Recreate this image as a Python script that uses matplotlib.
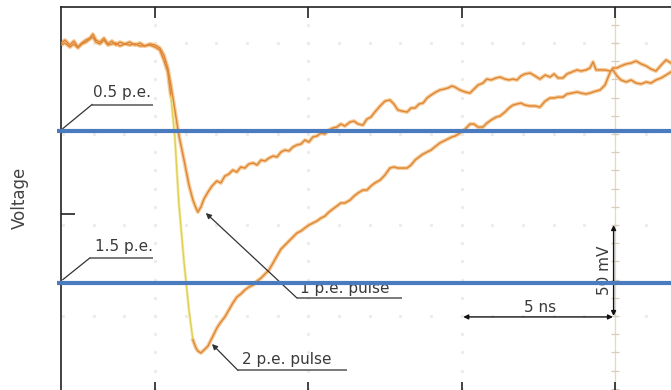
import numpy as np
import matplotlib
matplotlib.use("Agg")
import matplotlib.pyplot as plt

# ---- data (time in ns, voltage in mV relative to baseline) ----
t_ns = [-3.06, -2.93, -2.77, -2.64, -2.51, -2.38, -2.25, -2.12, -2.02, -1.92,
        -1.79, -1.66, -1.53, -1.40, -1.27, -1.14, -0.98, -0.82, -0.65, -0.49,
        -0.33, -0.16, 0.00, 0.16, 0.29, 0.42, 0.52, 0.65, 0.78, 0.95,
        1.11, 1.24, 1.34, 1.40, 1.50, 1.60, 1.73, 1.86, 2.02, 2.15,
        2.28, 2.41, 2.54, 2.67, 2.80, 2.93, 3.06, 3.20, 3.33, 3.46,
        3.59, 3.72, 3.85, 3.98, 4.11, 4.24, 4.37, 4.50, 4.63, 4.76,
        4.89, 5.02, 5.15, 5.28, 5.41, 5.54, 5.67, 5.80, 5.93, 6.06,
        6.19, 6.36, 6.49, 6.62, 6.78, 6.91, 7.04, 7.17, 7.34, 7.50,
        7.66, 7.79, 7.92, 8.05, 8.22, 8.35, 8.48, 8.61, 8.74, 8.87,
        9.00, 9.16, 9.29, 9.42, 9.55, 9.68, 9.78, 9.94, 10.11, 10.27,
        10.40, 10.53, 10.69, 10.82, 10.96, 11.12, 11.25, 11.41, 11.54, 11.67,
        11.80, 11.93, 12.06, 12.23, 12.39, 12.55, 12.72, 12.88, 13.01, 13.14,
        13.30, 13.43, 13.60, 13.76, 13.89, 14.05, 14.18, 14.28, 14.38, 14.51,
        14.67, 14.84, 14.93, 15.06, 15.19, 15.36, 15.52, 15.68, 15.85, 16.01,
        16.17, 16.33, 16.50, 16.66, 16.82]

v_1pe = [0.0, 1.6, -1.1, 1.1, -2.2, 0.0, 1.6, 2.7, 4.9, 1.6,
         0.5, 2.7, -0.5, 1.1, -1.1, 0.5, -0.5, 0.5, -1.1, 0.0,
         -1.6, -0.5, -1.1, -2.7, -6.6, -13.7, -23.1, -36.8, -50.5, -64.3,
         -78.0, -86.3, -90.7, -92.9, -90.1, -85.7, -81.9, -78.6, -75.8, -76.9,
         -73.1, -72.0, -69.8, -70.9, -68.1, -68.7, -66.5, -65.9, -67.0, -64.3,
         -64.8, -63.2, -62.1, -62.6, -59.9, -58.8, -59.3, -57.1, -56.0, -55.5,
         -53.3, -54.4, -51.6, -51.1, -49.5, -50.0, -47.8, -46.7, -46.2, -44.5,
         -45.6, -43.4, -42.9, -44.5, -45.1, -41.8, -40.7, -37.9, -34.6, -31.9,
         -31.3, -33.5, -36.8, -37.4, -37.9, -35.7, -35.7, -33.5, -33.0, -30.2,
         -28.6, -26.9, -25.8, -25.3, -24.7, -23.6, -24.2, -25.8, -26.9, -27.5,
         -25.3, -23.1, -22.0, -19.8, -20.3, -19.2, -18.7, -19.8, -20.3, -19.8,
         -20.3, -18.1, -17.0, -16.5, -18.1, -19.8, -17.6, -18.7, -17.0, -19.2,
         -19.2, -17.0, -15.9, -14.8, -15.4, -14.8, -13.7, -10.4, -14.8, -14.8,
         -14.8, -15.4, -14.8, -18.1, -20.3, -21.4, -20.3, -22.0, -22.5, -21.4,
         -22.0, -20.3, -19.2, -17.6, -15.9]

v_2pe = [-1.1, 0.0, -2.2, -0.5, -2.7, -0.5, 0.5, 2.2, 3.3, 0.5,
         -0.5, 1.6, -1.1, -0.5, 0.0, -1.6, -0.5, -1.1, -0.5, -1.6,
         -1.6, -1.1, -2.2, -3.8, -9.3, -15.9, -29.1, -51.6, -87.9, -120.3,
         -146.7, -163.2, -167.6, -169.2, -170.3, -168.7, -166.5, -162.1, -156.6, -153.3,
         -150.5, -146.7, -142.9, -139.6, -137.9, -135.7, -134.1, -133.0, -130.8, -129.1,
         -126.9, -124.7, -120.9, -117.0, -113.2, -111.0, -108.8, -106.6, -104.4, -103.3,
         -101.6, -100.0, -98.9, -97.8, -96.2, -95.1, -92.9, -91.2, -89.6, -87.9,
         -87.9, -86.3, -84.1, -82.4, -80.8, -80.8, -78.6, -76.9, -75.3, -72.5,
         -68.7, -68.1, -68.7, -68.7, -68.7, -67.0, -64.3, -62.6, -61.0, -59.9,
         -58.8, -56.6, -54.9, -53.8, -52.7, -51.6, -51.1, -49.5, -47.3, -44.5,
         -44.5, -46.2, -46.2, -44.0, -42.3, -40.7, -40.1, -37.9, -35.7, -34.1,
         -33.5, -33.0, -34.1, -34.6, -34.6, -35.2, -31.9, -30.2, -30.2, -29.7,
         -29.7, -28.0, -27.5, -26.9, -27.5, -28.0, -27.5, -26.9, -26.4, -25.8,
         -23.1, -15.9, -13.7, -13.7, -12.6, -11.5, -11.0, -9.9, -11.5, -12.6,
         -14.3, -15.4, -12.1, -9.3, -11.0]

threshold_labels = ["0.5 p.e.", "1.5 p.e."]
threshold_mv = [-48.6, -131.9]

# ---- figure ----
W, H = 671, 390
fig = plt.figure(figsize=(W / 100, H / 100), dpi=100)
ax = fig.add_axes([61 / W, -3 / H, (690 - 61) / W, (393 - 7) / H])
ax.set_xlim(-3.06, 17.44)
ax.set_ylim(-192.3, 19.8)

for s in ax.spines.values():
    s.set_color("#222222")
    s.set_linewidth(1.2)

ax.set_xticks([0, 5, 10, 15])
ax.set_yticks([-94])
ax.tick_params(axis="x", which="both", top=True, bottom=True, direction="in",
               length=8, width=1.2, labelbottom=False, labeltop=False, color="#222222")
ax.tick_params(axis="y", left=True, right=False, direction="in",
               length=10, width=1.2, labelleft=False, color="#222222")

# faint oscilloscope graticule (dots along major lines)
gdot = dict(ls="none", marker="s", ms=1.2, color="#ececec", zorder=1)
minor_t = np.arange(-3, 17.5, 1.0)
minor_v = np.arange(10, -200, -10)
for vmaj in [0, -50, -100, -150]:
    ax.plot(minor_t, np.full_like(minor_t, vmaj), **gdot)
for tmaj in [0, 5, 10]:
    ax.plot(np.full_like(minor_v, tmaj, dtype=float), minor_v, **gdot)

# centre vertical axis with minor ticks
ax.axvline(15, color="#e2d9c2", lw=0.9, zorder=1)
ax.plot(np.full_like(minor_v, 15.0, dtype=float), minor_v, ls="none",
        marker="_", ms=6, mew=0.9, color="#d6ceb8", zorder=1)

# ---- traces ----
halo = "#f7cb98"
core = "#dc8636"
t = np.array(t_ns)
v1 = np.array(v_1pe)
v2 = np.array(v_2pe)

ax.plot(t, v1, color=halo, lw=2.8, zorder=2, solid_joinstyle="round")
ax.plot(t, v1, color=core, lw=1.0, zorder=3)

ax.plot(t[:27], v2[:27], color=halo, lw=2.8, zorder=2)
ax.plot(t[:27], v2[:27], color=core, lw=1.0, zorder=3)
ax.plot(t[26:32], v2[26:32], color="#f1e9a6", lw=2.0, zorder=2)
ax.plot(t[26:32], v2[26:32], color="#e0cf50", lw=0.9, zorder=3)
ax.plot(t[31:], v2[31:], color=halo, lw=2.8, zorder=2, solid_joinstyle="round")
ax.plot(t[31:], v2[31:], color=core, lw=1.0, zorder=3)

# ---- annotations ----
tc = "#3a3a3a"
fs = 11
ul = dict(color="#555555", lw=1.1, zorder=4, solid_capstyle="butt")

# 0.5 p.e.
ax.text(-2.02, -29.7, threshold_labels[0], fontsize=fs, color=tc, va="baseline", zorder=4)
ax.plot([-2.05, -0.07], [-33.8, -33.8], **ul)
ax.plot([-2.05, -3.0], [-33.8, -47.0], color="#333333", lw=0.9, zorder=4)
# 1.5 p.e.
ax.text(-1.96, -114.3, threshold_labels[1], fontsize=fs, color=tc, va="baseline", zorder=4)
ax.plot([-2.12, -0.07], [-118.1, -118.1], **ul)
ax.plot([-2.12, -3.0], [-118.1, -130.0], color="#333333", lw=0.9, zorder=4)

arrow = dict(arrowstyle="-|>", color="#333333", lw=0.9, mutation_scale=8,
             shrinkA=0, shrinkB=0)
# 1 p.e. pulse
ax.text(4.73, -137.4, "1 p.e. pulse", fontsize=fs, color=tc, va="baseline", zorder=4)
ax.plot([4.63, 8.05], [-140.1, -140.1], **ul)
ax.annotate("", xy=(1.66, -93.4), xytext=(4.63, -140.1), arrowprops=arrow, zorder=4)
# 2 p.e. pulse
ax.text(2.84, -176.4, "2 p.e. pulse", fontsize=fs, color=tc, va="baseline", zorder=4)
ax.plot([2.71, 6.26], [-179.9, -179.9], **ul)
ax.annotate("", xy=(1.86, -165.4), xytext=(2.71, -179.9), arrowprops=arrow, zorder=4)

# scale arrows
sarrow = dict(arrowstyle="<|-|>", color="#111111", lw=1.0, mutation_scale=7,
              shrinkA=0, shrinkB=0)
ax.annotate("", xy=(10.05, -150.5), xytext=(14.93, -150.5), arrowprops=sarrow, zorder=4)
ax.text(12.55, -147.8, "5 ns", fontsize=fs, color=tc, ha="center", va="baseline", zorder=4)
ax.annotate("", xy=(14.95, -100.0), xytext=(14.95, -150.0), arrowprops=sarrow, zorder=4)
ax.text(14.66, -124.7, "50 mV", fontsize=fs, color=tc, ha="center", va="center",
        rotation=90, zorder=4)

# threshold lines (drawn on top)
for thr in threshold_mv:
    ax.plot([-3.2, 17.44], [thr, thr], color="#4a7bbf", lw=3.0, zorder=6,
            clip_on=False, solid_capstyle="butt")

fig.text(20 / W, 1 - 198 / H, "Voltage", rotation=90, fontsize=12, color="#444444",
         ha="center", va="center")

fig.savefig("out.png", dpi=100)
